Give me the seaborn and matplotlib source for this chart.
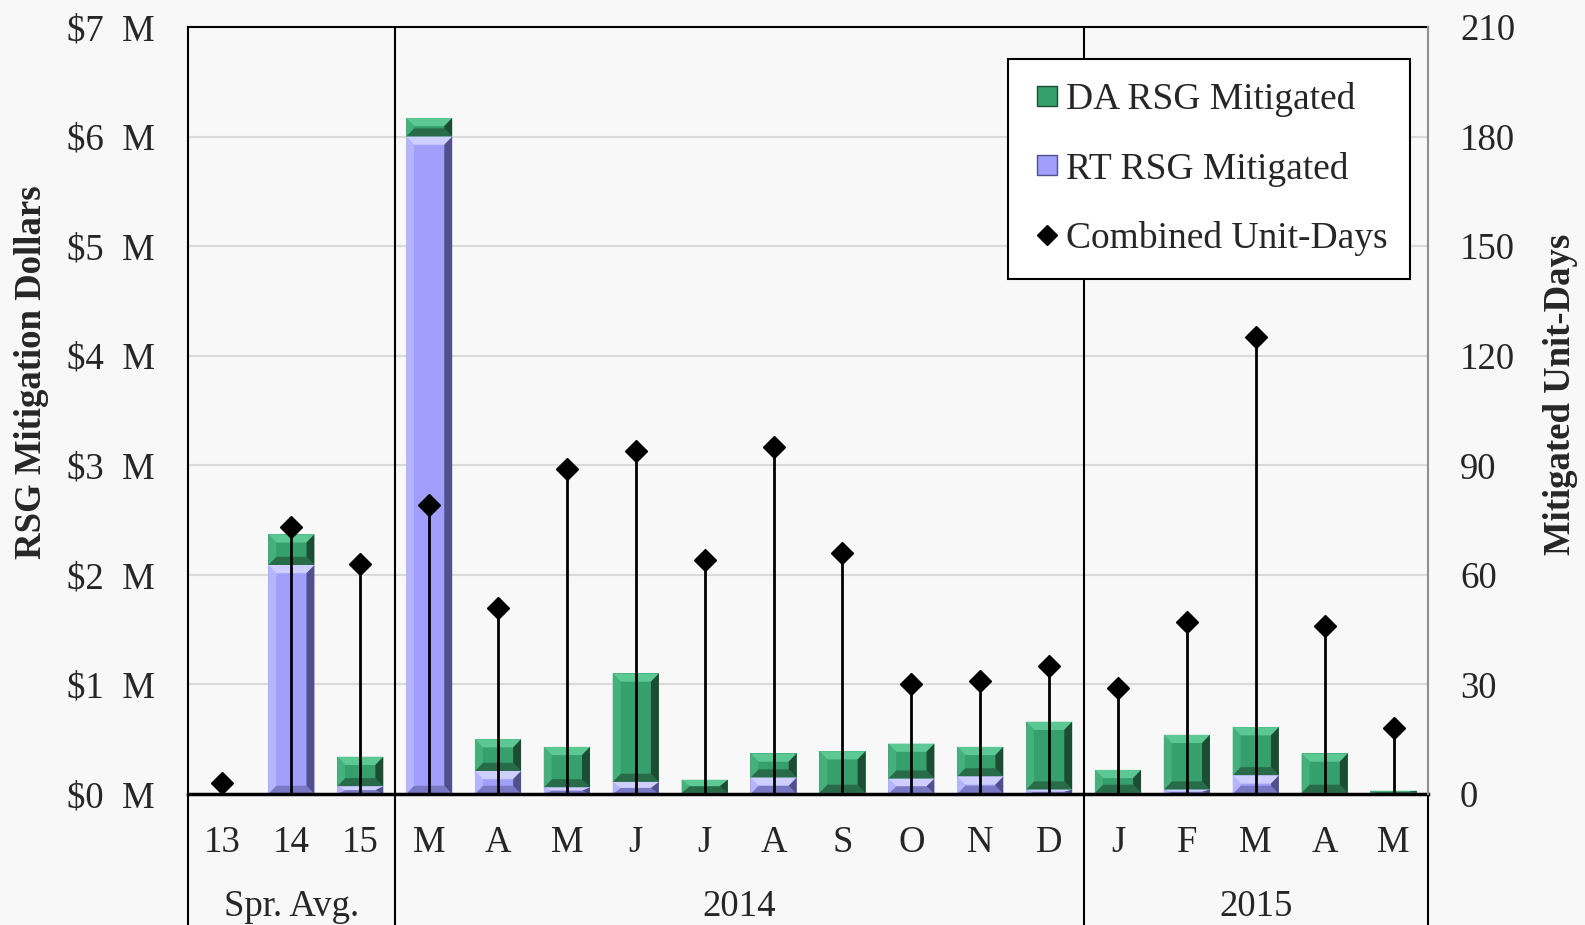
import numpy as np
import pandas as pd
import matplotlib
matplotlib.use('Agg')
import matplotlib.pyplot as plt
import seaborn as sns
from matplotlib.patches import Polygon
from matplotlib.lines import Line2D
from matplotlib.ticker import FuncFormatter, MultipleLocator

# 카테고리 / 데이터
month_labels = ['13', '14', '15', 'M', 'A', 'M', 'J', 'J', 'A', 'S', 'O', 'N', 'D',
                'J', 'F', 'M', 'A', 'M']
rt_mitigated = [0.00, 2.09, 0.07, 6.00, 0.21, 0.06, 0.11, 0.01, 0.15, 0.01, 0.14, 0.16,
                0.04, 0.01, 0.04, 0.17, 0.01, 0.01]   # $M
da_mitigated = [0.00, 0.28, 0.27, 0.17, 0.29, 0.37, 0.99, 0.12, 0.22, 0.38, 0.32, 0.27,
                0.62, 0.21, 0.50, 0.44, 0.36, 0.02]   # $M
unit_days = [3, 73, 63, 79, 51, 89, 94, 64, 95, 66, 30, 31, 35, 29, 47, 125, 46, 18]
group_names = ['Spr. Avg.', '2014', '2015']
group_sizes = [3, 10, 5]

df = pd.DataFrame({'pos': np.arange(len(month_labels)),
                   'rt': rt_mitigated, 'da': da_mitigated, 'days': unit_days})
df['total'] = df['rt'] + df['da']

GREEN = '#36a06c'
PURPLE = '#a0a0fc'
BG = '#f8f8f8'
FS = 26.5

sns.set_style('white')
plt.rcParams['font.family'] = ['Liberation Serif', 'DejaVu Serif']
plt.rcParams['font.size'] = FS

fig = plt.figure(figsize=(15.85, 9.25), dpi=100, facecolor=BG)
ax = fig.add_axes([188 / 1585, 1 - 794 / 925, 1240 / 1585, 767 / 925])
ax.set_facecolor(BG)

BAR_W = 0.67
sns.barplot(data=df, x='pos', y='total', color=GREEN, saturation=1, width=BAR_W,
            ax=ax, edgecolor='none', zorder=2)
sns.barplot(data=df, x='pos', y='rt', color=PURPLE, saturation=1, width=BAR_W,
            ax=ax, edgecolor='none', zorder=2)


# 엑셀 막대의 베벨 효과 흉내
def bevel(x0, x1, y0, y1, shades):
    h = y1 - y0
    if h <= 0:
        return
    bx = 0.115
    by = min(0.075, h / 2)
    top, left, right, bottom = shades
    polys = [
        ([(x0, y1), (x1, y1), (x1 - bx, y1 - by), (x0 + bx, y1 - by)], top),
        ([(x0, y0), (x1, y0), (x1 - bx, y0 + by), (x0 + bx, y0 + by)], bottom),
        ([(x0, y0), (x0 + bx, y0 + by), (x0 + bx, y1 - by), (x0, y1)], left),
        ([(x1, y0), (x1 - bx, y0 + by), (x1 - bx, y1 - by), (x1, y1)], right),
    ]
    for pts, c in polys:
        ax.add_patch(Polygon(pts, closed=True, facecolor=c, edgecolor='none', zorder=2.5))


green_shades = ('#5cc893', '#46b07c', '#1c4d33', '#276b48')
purple_shades = ('#cfcfff', '#b4b4ff', '#50508c', '#7878c4')
n = len(month_labels)
green_bars = ax.patches[:n]
for i, p in enumerate(green_bars):
    x0 = p.get_x()
    x1 = x0 + p.get_width()
    bevel(x0, x1, df['rt'][i], df['total'][i], green_shades)
    bevel(x0, x1, 0, df['rt'][i], purple_shades)

ax.set_xlim(-0.5, n - 0.5)
ax.set_ylim(0, 7)
ax.yaxis.set_major_locator(MultipleLocator(1))
ax.yaxis.set_major_formatter(FuncFormatter(lambda v, p: f'${v:.0f}  M'))
ax.set_axisbelow(True)
ax.yaxis.grid(True, color='#d9d9d9', lw=1.5)
ax.set_xticks(range(n))
ax.set_xticklabels(month_labels)
ax.set_xlabel('')
ax.tick_params(axis='x', length=0, pad=23, labelsize=FS)
ax.tick_params(axis='y', length=0, pad=24, labelsize=FS)
ax.set_ylabel('RSG Mitigation Dollars', fontweight='bold', fontsize=FS, va='center')
ax.yaxis.set_label_coords(-0.126, 0.55)

for s in ['top', 'left']:
    ax.spines[s].set_color('black')
    ax.spines[s].set_linewidth(1.5)
ax.spines['bottom'].set_color('black')
ax.spines['bottom'].set_linewidth(2.5)
ax.spines['right'].set_visible(False)

# 보조축: 유닛-일수
ax2 = ax.twinx()
ax2.vlines(df['pos'], 0, df['days'], color='black', lw=2, zorder=3)
ax2.plot(df['pos'], df['days'], ls='none', marker='D', ms=11, color='black', zorder=4)
ax2.set_ylim(0, 210)
ax2.yaxis.set_major_locator(MultipleLocator(30))
ax2.tick_params(axis='y', length=0, pad=23, labelsize=FS)
ax2.set_ylabel('Mitigated Unit-Days', fontweight='bold', fontsize=FS, va='center',
               rotation=90)
ax2.yaxis.set_label_coords(1.107, 0.521)
for s in ['top', 'left', 'bottom']:
    ax2.spines[s].set_visible(False)
ax2.spines['right'].set_color('#909090')
ax2.spines['right'].set_linewidth(1.5)

# 그룹 구분선 (축 아래까지 연장)
bounds = np.cumsum(group_sizes)[:-1] - 0.5
trans = ax.get_xaxis_transform()
for b in bounds:
    ax.plot([b, b], [-0.2, 1], transform=trans, color='black', lw=1.5, clip_on=False, zorder=5)
for b in [-0.5, n - 0.5]:
    ax.plot([b, b], [-0.2, 0], transform=trans, color='black', lw=1.5, clip_on=False, zorder=5)

start = 0
for name, size in zip(group_names, group_sizes):
    ax.text(start + (size - 1) / 2, -0.147, name, transform=trans, ha='center', va='center',
            fontsize=FS)
    start += size

handles = [Line2D([], [], ls='none', marker='s', ms=14, color=GREEN, mec='#1c4d33',
                  label='DA RSG Mitigated'),
           Line2D([], [], ls='none', marker='s', ms=14, color=PURPLE, mec='#50508c',
                  label='RT RSG Mitigated'),
           Line2D([], [], ls='none', marker='D', ms=10, color='black',
                  label='Combined Unit-Days')]
leg = ax2.legend(handles=handles, loc='upper right', bbox_to_anchor=(0.9855, 0.958),
                 borderaxespad=0, fancybox=False, framealpha=1, facecolor='white',
                 edgecolor='black', fontsize=27, handlelength=0.9,
                 handletextpad=0.05, labelspacing=0.93, borderpad=0.6)
leg.get_frame().set_linewidth(1.5)

fig.savefig('out.png', dpi=100, facecolor=BG)
